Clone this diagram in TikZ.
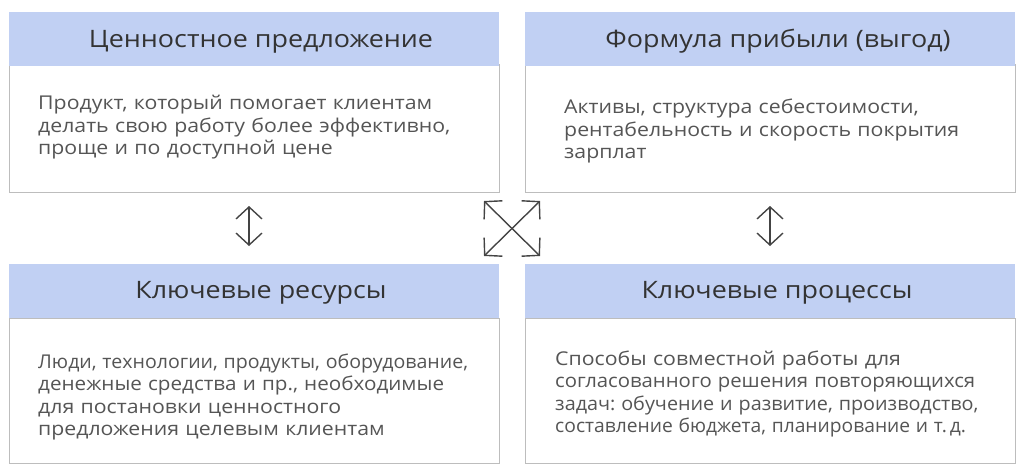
\documentclass[tikz,border=0pt]{standalone}
\usepackage{graphicx}
\usepackage{fontspec}
\setmainfont{Open Sans}[FakeStretch=1.12]
\frenchspacing
\usetikzlibrary{arrows.meta}
\definecolor{hdrblue}{HTML}{C1D0F3}
\definecolor{boxgray}{HTML}{BDBDBD}
\definecolor{txtgray}{HTML}{555555}
\definecolor{arrgray}{HTML}{444444}
\newcommand{\squeezeline}[2]{\scalebox{#1}[1]{#2}}
\tikzset{
	hdrbox/.style={fill=hdrblue, inner sep=0pt, minimum width=490pt, minimum height=54pt},
	hdrtext/.style={inner sep=0pt, anchor=base, text=black!80, font=\fontsize{24}{28}\selectfont},
	bodybox/.style={draw=boxgray, line width=1pt, inner sep=0pt, minimum width=490pt},
	txt/.style={inner sep=0pt, anchor=base west, text width=475pt, align=left, text=txtgray, font=\fontsize{19}{22.5}\selectfont},
	dblarrow/.style={arrgray, line width=1.4pt, {Straight Barb[length=12pt,width=26pt]}-{Straight Barb[length=12pt,width=26pt]}}
}
\begin{document}
\begin{tikzpicture}[x=1pt, y=-1pt]
	\useasboundingbox (0, 0) rectangle (1024, 473);

	% top row
	\node [bodybox, minimum height=127pt] at (254, 128.5) (vpbox) {};
	\node [hdrbox] at (254, 39) (vp) {};
	\node [hdrtext] at (261, 48) (vptitle) {Ценностное предложение};
	\node [txt] at (38, 110) (vptext) {Продукт, который помогает клиентам\\делать свою работу более эффективно,\\проще и по доступной цене};

	\node [bodybox, minimum height=127pt] at (770, 128.5) (pfbox) {};
	\node [hdrbox] at (770, 39) (pf) {};
	\node [hdrtext] at (778, 48) (pftitle) {Формула прибыли (выгод)};
	\node [txt] at (564, 114) (pftext) {Активы, структура себестоимости,\\рентабельность и скорость покрытия\\зарплат};

	% bottom row
	\node [bodybox, minimum height=145pt] at (254, 390.5) (krbox) {};
	\node [hdrbox] at (254, 290.5) (kr) {};
	\node [hdrtext] at (261, 298) (krtitle) {Ключевые ресурсы};
	\node [txt] at (38, 368) (krtext) {\squeezeline{0.92}{Люди, технологии, продукты, оборудование,}\\\squeezeline{0.97}{денежные средства и пр., необходимые}\\для постановки ценностного\\предложения целевым клиентам};

	\node [bodybox, minimum height=145pt] at (770, 390.5) (kpbox) {};
	\node [hdrbox] at (770, 290.5) (kp) {};
	\node [hdrtext] at (777, 298) (kptitle) {Ключевые процессы};
	\node [txt] at (555, 365) (kptext) {Способы совместной работы для\\\squeezeline{0.955}{согласованного решения повторяющихся}\\\squeezeline{0.93}{задач: обучение и развитие, производство,}\\\squeezeline{0.905}{составление бюджета, планирование и т.\,д.}};

	% arrows
	\coordinate (lt) at (249, 206);
	\coordinate (lb) at (249, 246);
	\coordinate (rt) at (770, 206);
	\coordinate (rb) at (770, 246);
	\coordinate (c1) at (484, 201);
	\coordinate (c2) at (540, 201);
	\coordinate (c3) at (484, 256);
	\coordinate (c4) at (540, 256);

	\draw [dblarrow] (lt) -- (lb);
	\draw [dblarrow] (rt) -- (rb);
	\draw [dblarrow] (c1) -- (c4);
	\draw [dblarrow] (c2) -- (c3);
\end{tikzpicture}
\end{document}
